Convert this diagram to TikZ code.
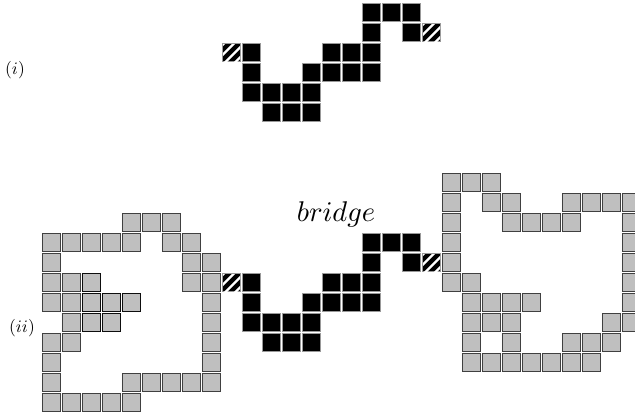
\documentclass[tikz,border=0pt]{standalone}
\begin{document}
\begin{tikzpicture}[x=1pt,y=-1pt,
  cellblack/.style={fill=black, draw=black!40, line width=0.7pt},
  cellgray/.style={fill=black!25, draw=black!75, line width=1pt},
  celldark/.style={fill=black!25, draw=black!95, line width=1.4pt},
  hatchline/.style={white, line width=2.2pt},
  lbl/.style={inner sep=0pt}]
\useasboundingbox (0,0) rectangle (635,418);
% black cells of the bridge, in (i) and (ii)
\foreach \yo in {3,233} {
  \foreach \c/\r in {7/0,8/0,9/0,7/1,9/1,1/2,5/2,6/2,7/2,1/3,4/3,5/3,6/3,7/3,1/4,2/4,3/4,4/4,2/5,3/5,4/5}
    \draw[cellblack] ({222+20*\c+0.7},{\yo+20*\r+0.7}) rectangle ++(18,18);
  \foreach \c/\r in {0/2,10/1} {
    \begin{scope}
      \draw[cellblack] ({222+20*\c+0.7},{\yo+20*\r+0.7}) rectangle ++(18,18);
      \clip ({222+20*\c+1.2},{\yo+20*\r+1.2}) rectangle ++(17,17);
      \foreach \a in {-17,-7,3,13}
        \draw[hatchline] ({222+20*\c+\a},{\yo+20*\r+19.5}) -- ++(19.5,-19.5);
    \end{scope}
  }
}
% gray cells, left region
\foreach \c/\r in {-5/-1,-4/-1,-3/-1,
  -9/0,-8/0,-7/0,-6/0,-5/0,-3/0,-2/0,
  -9/1,-2/1,-1/1,
  -9/2,-8/2,-2/2,-1/2,
  -9/3,-8/3,-1/3,
  -8/4,-1/4,
  -9/5,-8/5,-1/5,
  -9/6,-1/6,
  -9/7,-5/7,-4/7,-3/7,-2/7,-1/7,
  -9/8,-8/8,-7/8,-6/8,-5/8}
  \draw[cellgray] ({222+20*\c+0.7},{233+20*\r+0.7}) rectangle ++(18,18);
\foreach \c/\r in {-7/2,-7/3,-6/3,-5/3,-7/4,-6/4}
  \draw[celldark] ({222+20*\c+0.7},{233+20*\r+0.7}) rectangle ++(18,18);
% gray cells, right region
\foreach \c/\r in {11/-3,12/-3,13/-3,
  11/-2,13/-2,14/-2,17/-2,18/-2,19/-2,20/-2,
  11/-1,14/-1,15/-1,16/-1,17/-1,20/-1,
  11/0,20/0,
  11/1,20/1,
  11/2,12/2,20/2,
  12/3,13/3,14/3,15/3,20/3,
  12/4,13/4,14/4,19/4,20/4,
  12/5,14/5,17/5,18/5,19/5,
  12/6,13/6,14/6,15/6,16/6,17/6,18/6}
  \draw[cellgray] ({222+20*\c+0.7},{233+20*\r+0.7}) rectangle ++(18,18);
% labels
\node[lbl,scale=1.75] (li) at (15,70) {$(i)$};
\node[lbl,scale=1.75] (lii) at (22,328) {$(ii)$};
\node[lbl,scale=2.85] (br) at (336,214) {$bridge$};
\end{tikzpicture}
\end{document}
